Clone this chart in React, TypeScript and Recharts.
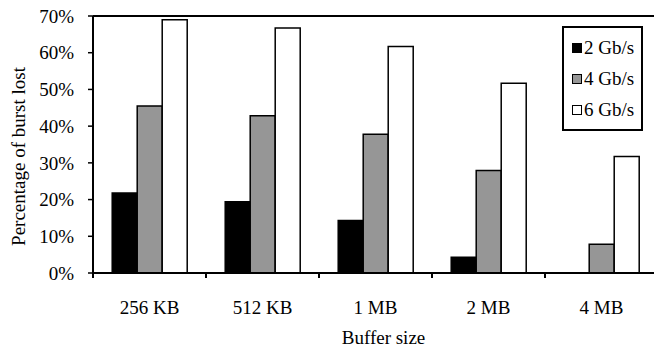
import { Bar, BarChart, Label, ReferenceLine, XAxis, YAxis } from "recharts"

const categories = ["256 KB", "512 KB", "1 MB", "2 MB", "4 MB"]
const gb2 = [21.8, 19.4, 14.3, 4.3, 0]
const gb4 = [45.5, 42.8, 37.8, 27.9, 7.8]
const gb6 = [69, 66.7, 61.7, 51.7, 31.7]
const yTicks = [0, 10, 20, 30, 40, 50, 60, 70]

const series = [
  { key: "gb2", name: "2 Gb/s", fill: "#000000" },
  { key: "gb4", name: "4 Gb/s", fill: "#969696" },
  { key: "gb6", name: "6 Gb/s", fill: "#ffffff" },
]

const data = categories.map((name, i) => ({
  name,
  gb2: gb2[i],
  gb4: gb4[i],
  gb6: gb6[i],
}))

const font = "'Liberation Serif', 'Times New Roman', serif"
const W = 658
const H = 349
const Y_AXIS_W = 93
const TICK_SIZE = 5
const TICK_MARGIN = 23
const band = (W - Y_AXIS_W) / categories.length

// category label plus the small tick at the left edge of each band
function CategoryTick(props: any) {
  const { x, y, payload } = props
  const axisY = y - TICK_SIZE - TICK_MARGIN
  const left = x - band / 2
  return (
    <g>
      <line x1={left} y1={axisY} x2={left} y2={axisY + TICK_SIZE} stroke="#000" strokeWidth={2} />
      <text
        x={x}
        y={y}
        dy="0.71em"
        textAnchor="middle"
        fill="#000"
        fontSize={19}
        fontFamily={font}
      >
        {payload.value}
      </text>
    </g>
  )
}

function LegendBox() {
  return (
    <div
      style={{
        position: "absolute",
        left: 562,
        top: 26,
        border: "2px solid #000",
        background: "#fff",
        width: 77,
        padding: "4px 0 4px 0",
        fontFamily: font,
        fontSize: 19,
        color: "#000",
      }}
    >
      {series.map((s) => (
        <div
          key={s.key}
          style={{ display: "flex", alignItems: "center", height: 31, paddingLeft: 8 }}
        >
          <span
            style={{
              display: "inline-block",
              width: 8,
              height: 8,
              background: s.fill,
              border: "1.5px solid #000",
              marginRight: 2,
            }}
          />
          <span>{s.name}</span>
        </div>
      ))}
    </div>
  )
}

export default function App() {
  return (
    <div style={{ position: "absolute", left: 0, top: 0, width: 654, height: H, overflow: "hidden", background: "#fff" }}>
      <BarChart
        width={W}
        height={H}
        data={data}
        margin={{ top: 16, right: 0, left: 0, bottom: 0 }}
        barGap={0}
        barCategoryGap="17%"
      >
        <XAxis
          dataKey="name"
          height={76}
          interval={0}
          axisLine={{ stroke: "#000", strokeWidth: 2 }}
          tickLine={false}
          tickSize={TICK_SIZE}
          tickMargin={TICK_MARGIN}
          tick={<CategoryTick />}
        >
          <Label
            value="Buffer size"
            position="insideBottom"
            offset={5}
            dx={8}
            style={{ fill: "#000", fontSize: 19, fontFamily: font }}
          />
        </XAxis>
        <YAxis
          width={Y_AXIS_W}
          domain={[0, 70]}
          ticks={yTicks}
          interval={0}
          tickFormatter={(v) => `${v}%`}
          axisLine={{ stroke: "#000", strokeWidth: 2 }}
          tickLine={{ stroke: "#000", strokeWidth: 1.5 }}
          tickSize={5}
          tickMargin={14}
          tick={{ fill: "#000", fontSize: 19, fontFamily: font }}
        >
          <Label
            value="Percentage of burst lost"
            angle={-90}
            position="insideLeft"
            offset={18}
            dy={12}
            style={{ fill: "#000", fontSize: 19, fontFamily: font, textAnchor: "middle" }}
          />
        </YAxis>
        <ReferenceLine y={70} stroke="#000" strokeWidth={2} />
        {series.map((s) => (
          <Bar
            key={s.key}
            dataKey={s.key}
            name={s.name}
            fill={s.fill}
            stroke="#000"
            strokeWidth={1.5}
            isAnimationActive={false}
          />
        ))}
      </BarChart>
      <LegendBox />
    </div>
  )
}
